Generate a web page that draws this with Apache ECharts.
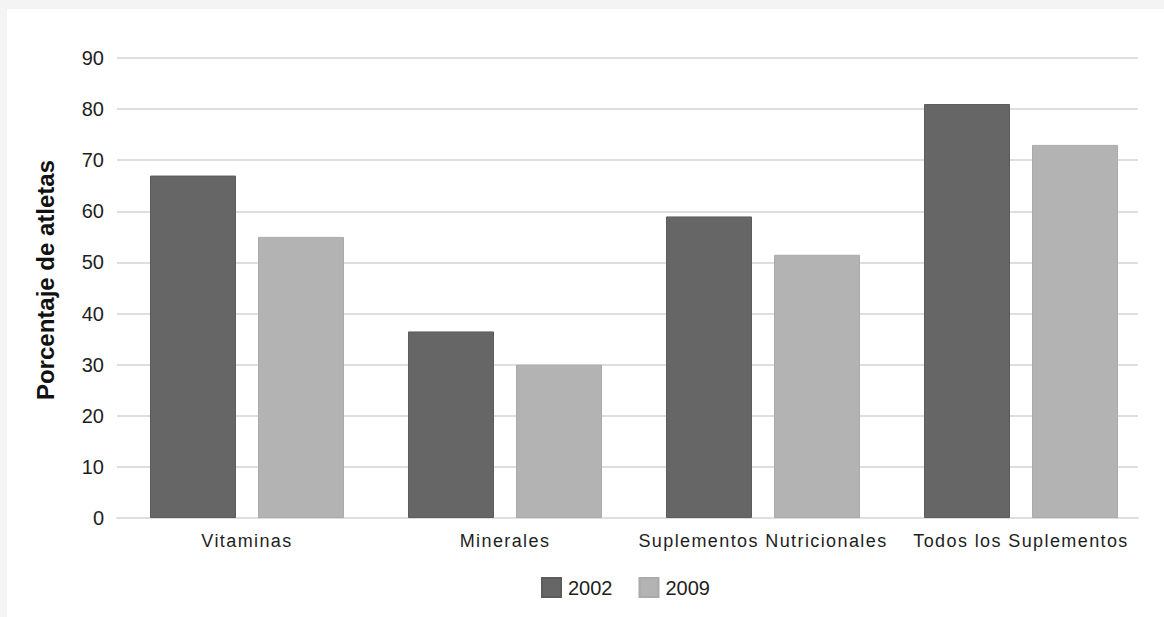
<!DOCTYPE html>
<html>
<head>
<meta charset="utf-8">
<script src="https://cdn.jsdelivr.net/npm/echarts@6/dist/echarts.min.js"></script>
<style>
  html, body { margin: 0; padding: 0; width: 1164px; height: 617px; background: #f4f4f4; overflow: hidden; }
  #panel { position: absolute; left: 7px; top: 9px; right: 0; bottom: 0; background: #ffffff; }
  #chart { position: absolute; left: 0; top: 0; width: 1164px; height: 617px; }
  /* category labels under the x axis are set with a wider tracking */
  #chart text[style*="Arial"] { letter-spacing: 1.4px; }
</style>
</head>
<body>
<div id="panel"></div>
<div id="chart"></div>
<script>
// Share of athletes using each supplement type, 2002 vs 2009
const categories = ['Vitaminas', 'Minerales', 'Suplementos Nutricionales', 'Todos los Suplementos'];
const seriesNames = ['2002', '2009'];
const values2002 = [67, 36.5, 59, 81];
const values2009 = [55, 30, 51.5, 73];
const yTicks = { min: 0, max: 90, interval: 10 };

const chart = echarts.init(document.getElementById('chart'), null, { renderer: 'svg' });

const baseFont = "'Liberation Sans', sans-serif";
const categoryFont = "'Liberation Sans', Arial, sans-serif";
const gridColor = '#dedede';
const textColor = '#1e1e1e';

chart.setOption({
  backgroundColor: 'transparent',
  animation: false,
  // grid 0 carries the value scale and its guide lines,
  // grid 1 lays out the category bands that hold the bars
  grid: [
    { left: 117, right: 26, top: 58, bottom: 99 },
    { left: 118, right: 14, top: 58, bottom: 99 }
  ],
  legend: {
    data: seriesNames,
    left: 536,
    top: 572,
    itemWidth: 19,
    itemHeight: 19,
    itemGap: 26,
    icon: 'rect',
    textStyle: { fontFamily: baseFont, fontSize: 20, color: textColor, padding: [0, 0, 0, 2] }
  },
  xAxis: [
    {
      gridIndex: 0,
      type: 'category',
      data: categories,
      axisLine: { show: true, lineStyle: { color: gridColor, width: 2 } },
      axisTick: { show: false },
      axisLabel: { show: false }
    },
    {
      gridIndex: 1,
      type: 'category',
      data: categories,
      axisLine: { show: false },
      axisTick: { show: false },
      axisLabel: {
        interval: 0,
        margin: 14,
        fontFamily: categoryFont,
        fontSize: 18,
        color: textColor
      }
    }
  ],
  yAxis: [
    {
      gridIndex: 0,
      type: 'value',
      min: yTicks.min,
      max: yTicks.max,
      interval: yTicks.interval,
      name: 'Porcentaje de atletas',
      nameLocation: 'middle',
      nameRotate: 90,
      nameGap: 60,
      nameTextStyle: {
        fontFamily: baseFont, fontSize: 24, fontWeight: 'bold', color: '#111111',
        padding: [0, 0, 0, 16]
      },
      axisLine: { show: false },
      axisTick: { show: false },
      axisLabel: { margin: 13, fontFamily: baseFont, fontSize: 20, color: textColor },
      splitLine: { show: true, lineStyle: { color: gridColor, width: 2 } }
    },
    {
      gridIndex: 1,
      type: 'value',
      min: yTicks.min,
      max: yTicks.max,
      interval: yTicks.interval,
      axisLine: { show: false },
      axisTick: { show: false },
      axisLabel: { show: false },
      splitLine: { show: false }
    }
  ],
  series: [
    {
      name: seriesNames[0],
      type: 'bar',
      xAxisIndex: 1,
      yAxisIndex: 1,
      data: values2002,
      barGap: '25.6%',
      barCategoryGap: '24.8%',
      itemStyle: { color: '#666666', borderColor: '#5c5c5c', borderWidth: 1 }
    },
    {
      name: seriesNames[1],
      type: 'bar',
      xAxisIndex: 1,
      yAxisIndex: 1,
      data: values2009,
      barGap: '25.6%',
      barCategoryGap: '24.8%',
      itemStyle: { color: '#b3b3b3', borderColor: '#aaaaaa', borderWidth: 1 }
    }
  ]
});
</script>
</body>
</html>
